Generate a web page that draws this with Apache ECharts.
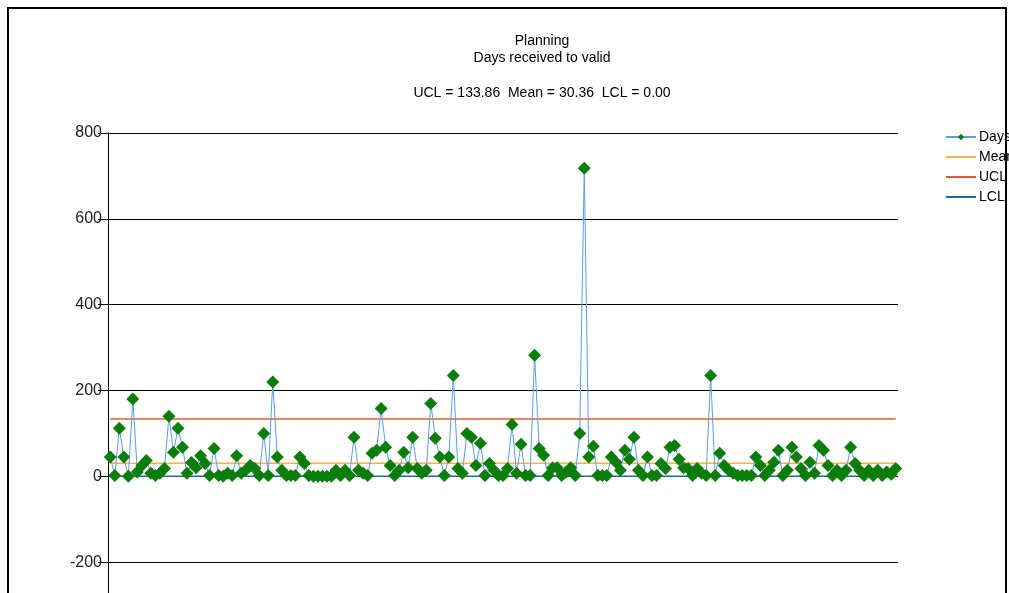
<!DOCTYPE html>
<html>
<head>
<meta charset="utf-8">
<script src="https://cdn.jsdelivr.net/npm/echarts@6/dist/echarts.min.js"></script>
<style>
  html, body { margin: 0; padding: 0; background: #fff; overflow: hidden; width: 1009px; height: 593px; }
  #chart { width: 1009px; height: 660px; }
  #frame { position: absolute; left: 7px; top: 7px; width: 996px; height: 600px; border: 2px solid #000; pointer-events: none; }
</style>
</head>
<body>
<div id="chart"></div>
<div id="frame"></div>
<script>
// Days received to valid, one value per application
const days = [
  45, 2, 112, 45, 0, 180,
  10, 25, 37, 7, 2, 7, 18, 140,
  56, 112, 68, 7, 32, 20, 48, 30, 2, 65, 2, 0, 7, 2, 48, 7, 14, 25, 18, 2, 100, 2, 220,
  45, 14, 2, 2, 2, 45, 30, 2, 0, 0, 0, 0, 0, 14, 2, 14, 2, 91, 14, 7, 2, 54, 61, 158,
  68, 25, 2, 14, 56, 20, 91, 18, 7, 14, 170,
  89, 45, 2, 45, 235,
  18, 7, 100, 91, 25, 77, 2, 30, 14, 2, 2, 18, 121, 7, 75, 2, 2, 282,
  65, 49, 2, 20, 20, 2, 10, 20, 2, 100, 718,
  45, 70, 2, 2, 2, 45, 33, 14, 61, 40, 91, 14, 2, 45, 2, 2, 30, 18, 68, 72, 40, 20, 18, 2, 18, 7, 2, 235,
  2, 54, 25, 14, 7, 2, 2, 2, 2, 45, 25, 2, 14, 33, 61, 2, 14, 68, 45, 18, 2, 33, 7, 72, 61, 25, 2, 14, 2, 14, 68, 30, 14, 2, 14, 2, 14, 2, 10, 5, 18
];
const UCL = 133.86;
const MEAN = 30.36;
const LCL = 0.00;
const yTicks = { min: -400, max: 800, interval: 200 };

const categories = days.map((_, i) => String(i + 1));

const chart = echarts.init(document.getElementById('chart'));

const ctrlSeries = (name, value, color) => ({
  name: name,
  type: 'line',
  data: days.map(() => value),
  symbol: 'none',
  lineStyle: { color: color, width: 1.5 },
  itemStyle: { color: color },
  z: 1,
  silent: true
});

const lineIcon = 'path://M0,3 L30,3 L30,5 L0,5 Z';

const option = {
  animation: false,
  title: [
    {
      text: 'Planning\nDays received to valid',
      left: 537,
      top: 28,
      textAlign: 'center',
      textStyle: { fontFamily: 'Liberation Sans', fontSize: 14, fontWeight: 'normal', color: '#000', lineHeight: 17 }
    },
    {
      text: 'UCL = 133.86  Mean = 30.36  LCL = 0.00',
      left: 537,
      top: 81,
      textAlign: 'center',
      textStyle: { fontFamily: 'Liberation Sans', fontSize: 14, fontWeight: 'normal', color: '#000' }
    }
  ],
  legend: {
    orient: 'vertical',
    left: 940,
    top: 125,
    itemWidth: 30,
    itemHeight: 8,
    itemGap: 6,
    textStyle: { fontFamily: 'Liberation Sans', fontSize: 14, color: '#000', padding: [0, 0, 0, -2] },
    data: [
      { name: 'Days' },
      { name: 'Mean', icon: lineIcon },
      { name: 'UCL', icon: lineIcon },
      { name: 'LCL', icon: lineIcon }
    ]
  },
  grid: { left: 108, top: 133, right: 111, bottom: 12 },
  xAxis: {
    type: 'category',
    data: categories,
    boundaryGap: true,
    axisLine: { show: false },
    axisTick: { show: false },
    axisLabel: { show: false },
    splitLine: { show: false }
  },
  yAxis: {
    type: 'value',
    min: yTicks.min,
    max: yTicks.max,
    interval: yTicks.interval,
    axisLine: { show: true, lineStyle: { color: '#000', width: 1 } },
    axisTick: { show: true, length: 10, lineStyle: { color: '#000' } },
    axisLabel: { color: '#222', fontFamily: 'Liberation Sans', fontSize: 16, margin: 6 },
    splitLine: { show: true, lineStyle: { color: '#000', width: 1 } }
  },
  series: [
    {
      name: 'Days',
      type: 'line',
      data: days,
      symbol: 'diamond',
      symbolSize: 13,
      showAllSymbol: true,
      lineStyle: { color: '#5b9cf0', width: 1 },
      itemStyle: { color: '#0a7d0a' },
      z: 3
    },
    ctrlSeries('Mean', MEAN, '#fbb04e'),
    ctrlSeries('UCL', UCL, '#e45a2c'),
    ctrlSeries('LCL', LCL, '#1f6a9a')
  ]
};

chart.setOption(option);
</script>
</body>
</html>
